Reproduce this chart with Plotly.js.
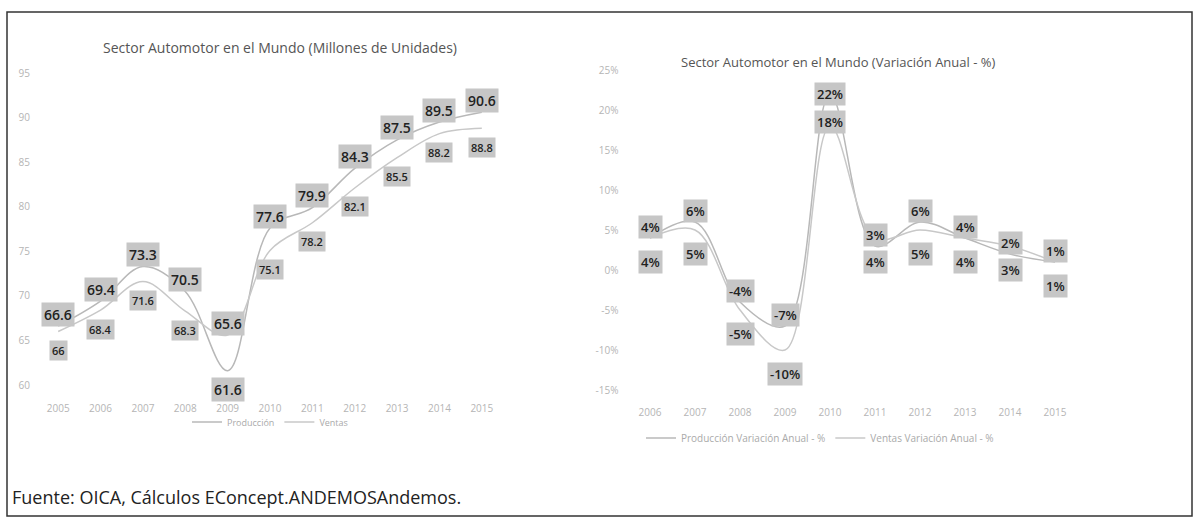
<!DOCTYPE html>
<html>
<head>
<meta charset="utf-8">
<script src="https://cdn.plot.ly/plotly-3.0.1.min.js"></script>
<style>html,body{margin:0;padding:0;background:#fff;}#chart{width:1198px;height:525px;}</style>
</head>
<body>
<div id="chart"></div>
<script>
// Left chart: millions of units
const yearsLeft = [2005, 2006, 2007, 2008, 2009, 2010, 2011, 2012, 2013, 2014, 2015];
const produccion = [66.6, 69.4, 73.3, 70.5, 61.6, 77.6, 79.9, 84.3, 87.5, 89.5, 90.6];
const ventas = [66, 68.4, 71.6, 68.3, 65.6, 75.1, 78.2, 82.1, 85.5, 88.2, 88.8];
const leftTicks = [60, 65, 70, 75, 80, 85, 90, 95];

// Right chart: annual variation (%)
const yearsRight = [2006, 2007, 2008, 2009, 2010, 2011, 2012, 2013, 2014, 2015];
const prodVar = [4, 6, -4, -7, 22, 3, 6, 4, 2, 1];
const ventasVar = [4, 5, -5, -10, 18, 4, 5, 4, 3, 1];
const rightTicks = [-15, -10, -5, 0, 5, 10, 15, 20, 25];

const W = 1198, H = 525;
const lineColor = '#b8b8b8';
const tickFont = {family: 'Open Sans, sans-serif', size: 10, color: '#b5b5b5'};

const traces = [
  {x: yearsLeft, y: produccion, name: 'Producción', type: 'scatter', mode: 'lines',
   line: {shape: 'spline', smoothing: 1, color: lineColor, width: 1.5}, xaxis: 'x', yaxis: 'y', legend: 'legend'},
  {x: yearsLeft, y: ventas, name: 'Ventas', type: 'scatter', mode: 'lines',
   line: {shape: 'spline', smoothing: 1, color: '#c8c8c8', width: 1.5}, xaxis: 'x', yaxis: 'y', legend: 'legend'},
  {x: yearsRight, y: prodVar, name: 'Producción Variación Anual - %', type: 'scatter', mode: 'lines',
   line: {shape: 'spline', smoothing: 1, color: lineColor, width: 1.5}, xaxis: 'x2', yaxis: 'y2', legend: 'legend2'},
  {x: yearsRight, y: ventasVar, name: 'Ventas Variación Anual - %', type: 'scatter', mode: 'lines',
   line: {shape: 'spline', smoothing: 1, color: '#c8c8c8', width: 1.5}, xaxis: 'x2', yaxis: 'y2', legend: 'legend2'}
];

const annotations = [];
function label(xref, yref, x, y, text, shift, size) {
  annotations.push({xref: xref, yref: yref, x: x, y: y, text: text, showarrow: false,
    xanchor: 'center', yanchor: 'middle',
    yshift: shift, bgcolor: '#c6c6c6', borderpad: 2,
    font: {family: 'Open Sans, sans-serif', size: size, color: '#222', weight: 600}});
}
yearsLeft.forEach((yr, i) => {
  const pAbove = produccion[i] >= ventas[i];
  label('x', 'y', yr, produccion[i], String(produccion[i]), pAbove ? 12 : -19, 14);
  label('x', 'y', yr, ventas[i], String(ventas[i]), pAbove ? -19 : 12, pAbove ? 11 : 14);
});
const prodMax = Math.max(...prodVar);
const ventasMax = Math.max(...ventasVar);
yearsRight.forEach((yr, i) => {
  label('x2', 'y2', yr, prodVar[i], prodVar[i] + '%', prodVar[i] === prodMax ? 0 : 11, 13);
  label('x2', 'y2', yr, ventasVar[i], ventasVar[i] + '%', ventasVar[i] === ventasMax ? 4 : -24, 13);
});

annotations.push({xref: 'paper', yref: 'paper', x: 280 / W, y: 1 - 47 / H, xanchor: 'center', yanchor: 'middle',
  showarrow: false, text: 'Sector Automotor en el Mundo (Millones de Unidades)',
  font: {family: 'Open Sans, sans-serif', size: 14, color: '#555'}});
annotations.push({xref: 'paper', yref: 'paper', x: 838 / W, y: 1 - 62 / H, xanchor: 'center', yanchor: 'middle',
  showarrow: false, text: 'Sector Automotor en el Mundo (Variación Anual - %)',
  font: {family: 'Open Sans, sans-serif', size: 13, color: '#555'}});
annotations.push({xref: 'paper', yref: 'paper', x: 10 / W, y: 1 - 497 / H, xanchor: 'left', yanchor: 'middle',
  showarrow: false, text: 'Fuente: OICA, Cálculos EConcept.ANDEMOSAndemos.',
  font: {family: 'Open Sans, sans-serif', size: 18, color: '#222'}});

const axisBase = {showgrid: false, zeroline: false, showline: false, ticks: '', tickfont: tickFont};

const layout = {
  width: W, height: H,
  margin: {l: 0, r: 0, t: 0, b: 0},
  paper_bgcolor: '#fff', plot_bgcolor: '#fff',
  xaxis: Object.assign({}, axisBase, {domain: [37 / W, 503 / W], range: [2004.5, 2015.5],
    tickvals: yearsLeft, ticktext: yearsLeft.map(String), anchor: 'y', ticklabelstandoff: 16}),
  yaxis: Object.assign({}, axisBase, {domain: [1 - 385 / H, 1 - 73 / H], range: [60, 95],
    tickvals: leftTicks, anchor: 'x', ticklabelstandoff: 6}),
  xaxis2: Object.assign({}, axisBase, {domain: [627.5 / W, 1077.5 / W], range: [2005.5, 2015.5],
    tickvals: yearsRight, ticktext: yearsRight.map(String), anchor: 'y2', ticklabelstandoff: 15}),
  yaxis2: Object.assign({}, axisBase, {domain: [1 - 390 / H, 1 - 70 / H], range: [-15, 25],
    tickvals: rightTicks, ticktext: rightTicks.map(v => v + '%'), anchor: 'x2', ticklabelstandoff: 8}),
  showlegend: true,
  legend: {orientation: 'h', x: 270 / W, y: 1 - 422 / H, xanchor: 'center', yanchor: 'middle',
    font: {family: 'Open Sans, sans-serif', size: 9, color: '#aaa'}, bgcolor: 'rgba(0,0,0,0)'},
  legend2: {orientation: 'h', x: 820 / W, y: 1 - 438 / H, xanchor: 'center', yanchor: 'middle',
    font: {family: 'Open Sans, sans-serif', size: 10, color: '#aaa'}, bgcolor: 'rgba(0,0,0,0)'},
  annotations: annotations,
  shapes: [{type: 'rect', xref: 'paper', yref: 'paper', x0: 7 / W, x1: 1192 / W, y0: 1 - 516 / H, y1: 1 - 12 / H,
    line: {color: '#333', width: 1.5}}]
};

Plotly.newPlot('chart', traces, layout, {displayModeBar: false, staticPlot: true});
</script>
</body>
</html>
